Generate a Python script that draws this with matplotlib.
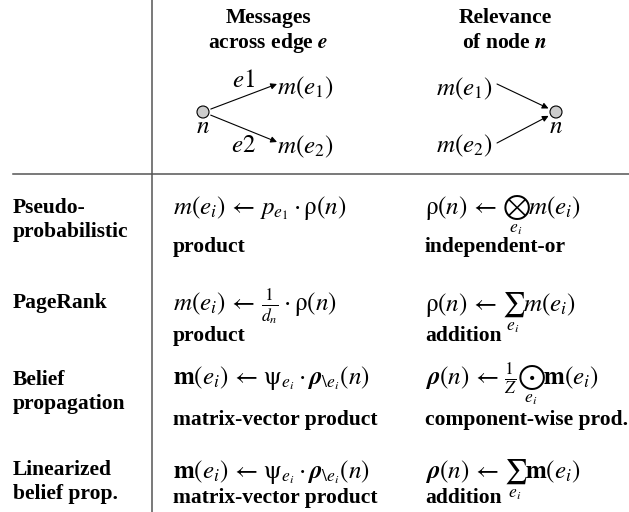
import matplotlib
matplotlib.use("Agg")
from matplotlib import pyplot
from matplotlib.patches import Circle

pyplot.rcParams["mathtext.fontset"] = "stix"
pyplot.rcParams["font.family"] = ["Liberation Serif", "DejaVu Serif"]

# table content
row_names = ["Pseudo-\nprobabilistic", "PageRank", "Belief\npropagation", "Linearized\nbelief prop."]
msg_formulas = [r"$m(e_i) \,\leftarrow\, p_{e_1} \cdot \mathrm{\rho}(n)$",
                r"$m(e_i) \,\leftarrow\, \frac{1}{d_n} \cdot \mathrm{\rho}(n)$",
                r"$\mathbf{m}(e_i) \,\leftarrow\, \mathrm{\psi}_{e_i} \cdot \mathbfit{\rho}_{\backslash e_i}(n)$",
                r"$\mathbf{m}(e_i) \,\leftarrow\, \mathrm{\psi}_{e_i} \cdot \mathbfit{\rho}_{\backslash e_i}(n)$"]
msg_labels = ["product", "product", "matrix-vector product", "matrix-vector product"]
rel_formulas = [r"$\mathrm{\rho}(n) \,\leftarrow\, \bigotimes_{e_i} m(e_i)$",
                r"$\mathrm{\rho}(n) \,\leftarrow\, \sum_{e_i} m(e_i)$",
                r"$\mathbfit{\rho}(n) \,\leftarrow\, \frac{1}{Z} \bigodot_{e_i} \mathbf{m}(e_i)$",
                r"$\mathbfit{\rho}(n) \,\leftarrow\, \sum_{e_i} \mathbf{m}(e_i)$"]
rel_labels = ["independent-or", "addition", "component-wise prod.", "addition"]
headers = [("Messages", r"across edge $\mathbfit{e}$"), ("Relevance", r"of node $\mathbfit{n}$")]

# layout in pixels (y down)
name_y = [220, 303, 392, 482]
formula_base = [214, 311, 384, 478]
label_y = [247, 336, 420, 498]
col_x = [173, 425]
head_x = [268, 505]

fig = pyplot.figure(figsize=(6.29, 5.12), dpi=100)
ax = fig.add_axes([0, 0, 1, 1])
ax.set_xlim(0, 629)
ax.set_ylim(512, 0)
ax.axis("off")

ax.plot([152, 152], [0, 512], color="#555555", lw=1.1)
ax.plot([13, 629], [174, 174], color="#555555", lw=1.1)

for (top, bottom), x in zip(headers, head_x):
    ax.text(x, 18, top, ha="center", va="center", fontsize=15.5, fontweight="bold")
    ax.text(x, 43, bottom, ha="center", va="center", fontsize=15.5, fontweight="bold")

arrow_style = dict(arrowstyle="-|>", color="black", lw=0.8, mutation_scale=9)

# sketch: messages leaving node n
ax.add_patch(Circle((203, 112), 6, facecolor="#cccccc", edgecolor="black", lw=0.8, zorder=3))
ax.text(203, 127, "$n$", ha="center", va="center", fontsize=18)
for y_end, edge, msg, y_lab, y_msg in [(84, "$e1$", "$m(e_1)$", 81, 88), (142, "$e2$", "$m(e_2)$", 146, 147)]:
    ax.annotate("", xy=(277, y_end), xytext=(203, 112),
                arrowprops=dict(shrinkA=6, shrinkB=0, **arrow_style))
    ax.text(243, y_lab, edge, ha="center", va="center", fontsize=18)
    ax.text(277, y_msg, msg, ha="left", va="center", fontsize=18)

# sketch: messages arriving at node n
ax.add_patch(Circle((556, 112), 6, facecolor="#cccccc", edgecolor="black", lw=0.8, zorder=3))
ax.text(556, 127, "$n$", ha="center", va="center", fontsize=18)
for y_start, y_msg, msg in [(84, 89, "$m(e_1)$"), (143, 146, "$m(e_2)$")]:
    ax.text(492, y_msg, msg, ha="right", va="center", fontsize=18)
    ax.annotate("", xy=(556, 112), xytext=(497, y_start),
                arrowprops=dict(shrinkA=0, shrinkB=6, **arrow_style))

for i in range(len(row_names)):
    ax.text(13, name_y[i], row_names[i], ha="left", va="center", fontsize=15.5,
            fontweight="bold", linespacing=1.25)
    ax.text(col_x[0], formula_base[i], msg_formulas[i], ha="left", va="baseline", fontsize=18)
    ax.text(col_x[0], label_y[i], msg_labels[i], ha="left", va="center", fontsize=15.5, fontweight="bold")
    ax.text(col_x[1], formula_base[i], rel_formulas[i], ha="left", va="baseline", fontsize=18)
    ax.text(col_x[1], label_y[i], rel_labels[i], ha="left", va="center", fontsize=15.5, fontweight="bold")

pyplot.savefig("out.png", dpi=100)
